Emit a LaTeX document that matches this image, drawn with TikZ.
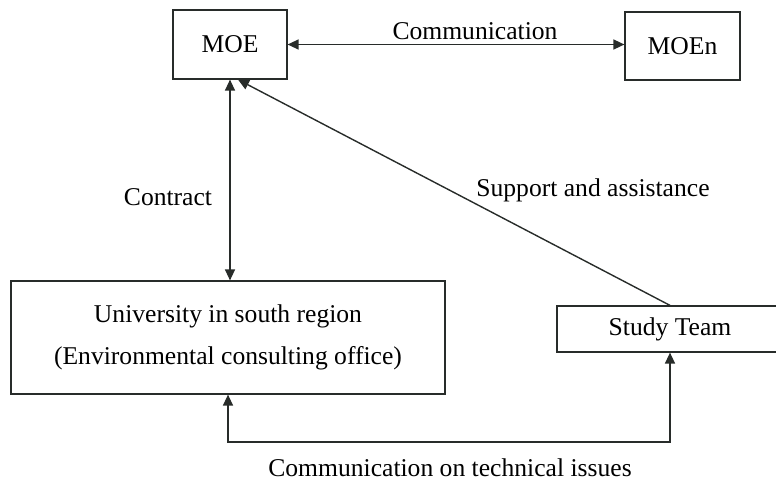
\documentclass[tikz,border=0pt]{standalone}
\usepackage{fontspec}
\setmainfont{Liberation Serif}
\definecolor{ink}{RGB}{40,44,42}
\usetikzlibrary{arrows.meta,positioning}

\begin{document}
\begin{tikzpicture}[
    x=0.5pt, y=-0.5pt,
    font=\fontsize{12.8}{15}\selectfont,
    box/.style  = {draw=ink, line width=0.6pt, inner sep=0pt, align=center},
    arr/.style  = {{Triangle[length=5.5pt,width=5pt]}-{Triangle[length=5.5pt,width=5pt]},
                   line width=0.7pt, color=ink},
    toarr/.style = {-{Triangle[length=5.5pt,width=5pt]}, line width=0.7pt, color=ink},
    lbl/.style  = {inner sep=0pt},
  ]
    \useasboundingbox (0,0) rectangle (776,482);

    \node[box, minimum width=57pt,  minimum height=34.5pt] (moe)   at (230,44.5) {MOE};
    \node[box, minimum width=57.5pt, minimum height=34pt]  (moen)  at (682.5,46) {MOEn};
    \node[box, minimum width=217pt, minimum height=56.5pt] (univ)  at (228,337.5)
      {University in south region\\[6pt](Environmental consulting office)};
    \node[box, minimum width=113pt, minimum height=23pt]   (study) at (670,329) {Study Team};

    \coordinate (low) at (450,442);

    \draw[arr]   (moe.east) -- (moe.east -| moen.west);
    \draw[arr]   (moe.south) -- (moe.south |- univ.north);
    \draw[toarr] (study.north) -- ([xshift=4pt]moe.south);
    \draw[arr]   (univ.south) |- (low) -| (study.south);

    \node[lbl] (comm)  at (475,31)  {Communication};
    \node[lbl] (contr) at (168,197) {Contract};
    \node[lbl] (supp)  at (593,190) {Support and assistance};
    \node[lbl] (tech)  at (450,468) {Communication on technical issues};
  \end{tikzpicture}
\end{document}
